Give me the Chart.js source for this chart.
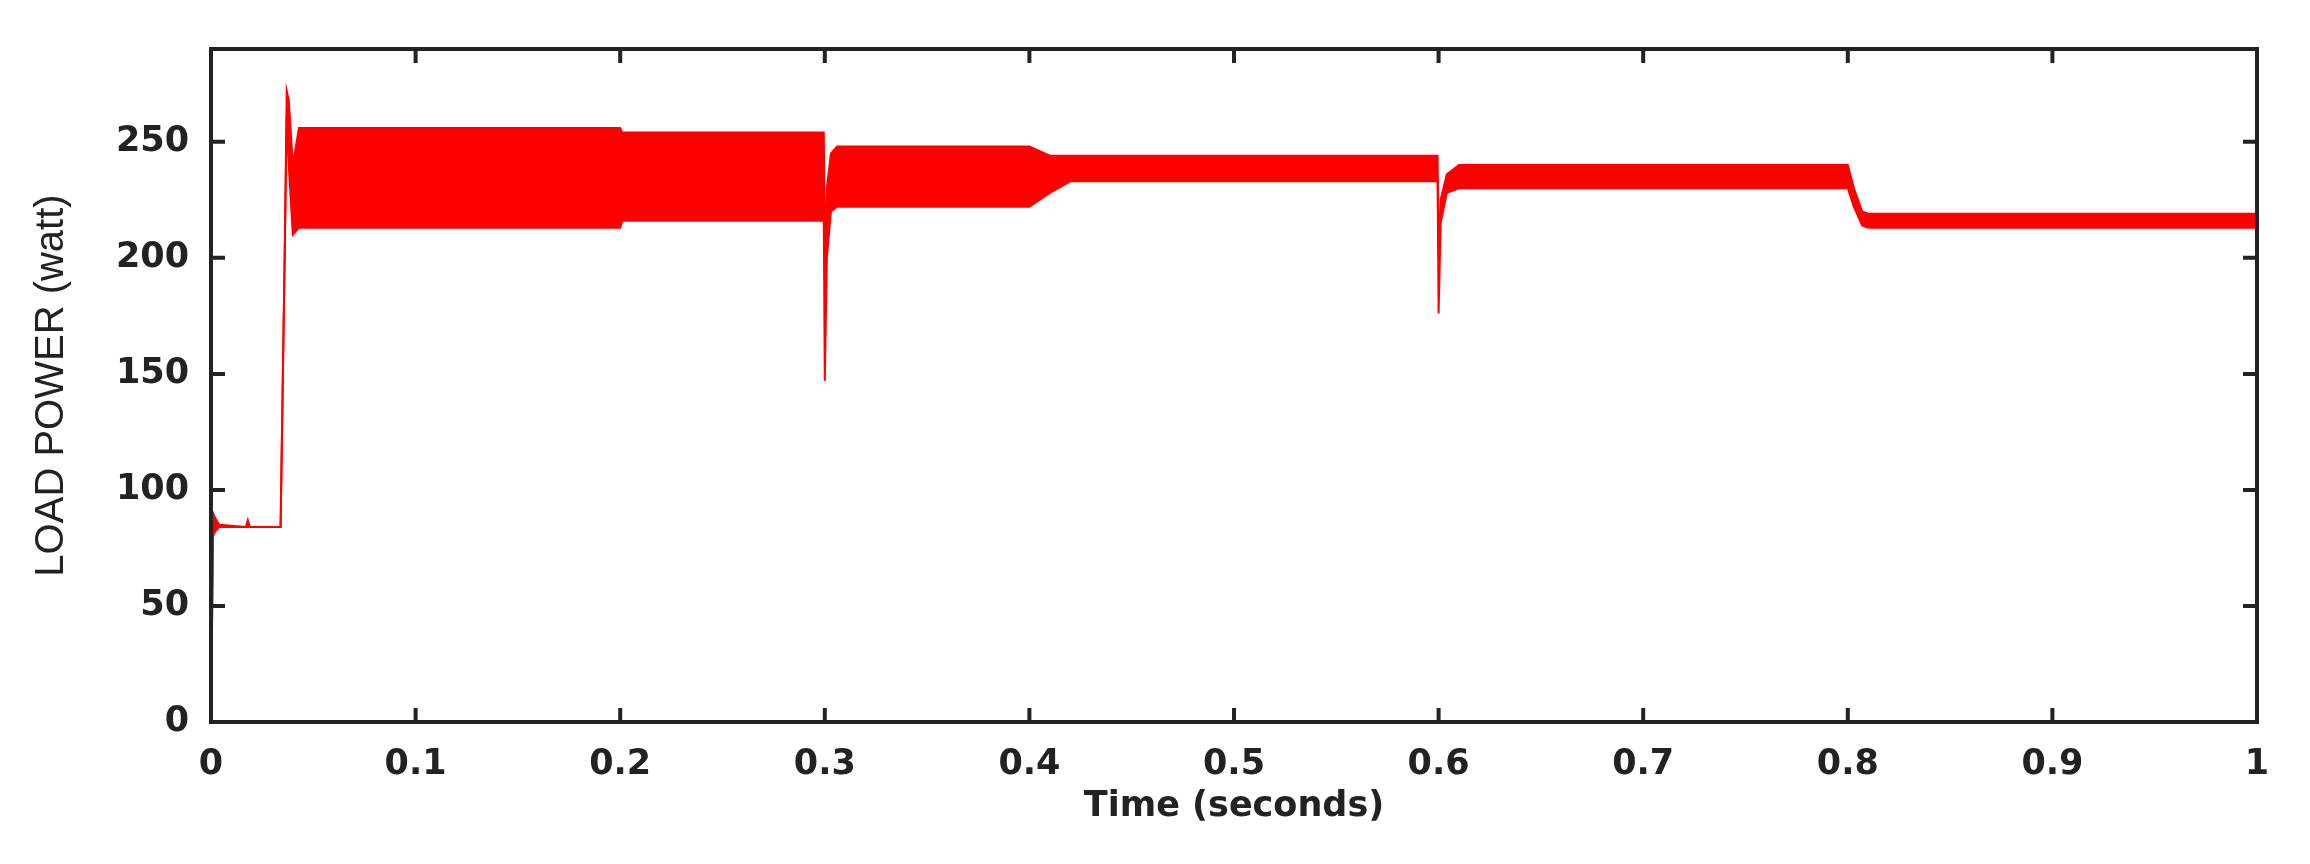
<!DOCTYPE html>
<html><head><meta charset="utf-8">
<script src="https://cdn.jsdelivr.net/npm/chart.js@4/dist/chart.umd.min.js"></script>
<style>html,body{margin:0;padding:0;background:#fff}#w{width:2310px;height:864px}</style>
</head><body><div id="w"><canvas id="c"></canvas></div>
<script>
// time points (s) and envelope of the oscillating load power (W)
const times = [0, .001, .002, .004, .017, .018, .019, .034, .036, .037, .038, .040, .043, .2, .201, .2995, .3, .301, .303, .306, .4, .41, .42, .5995, .6, .601, .604, .61, .8, .803, .807, .81, 1];
const upperPower = [0, 90, 88, 85, 84, 87, 84, 84, 200, 272, 268, 240, 256, 256, 254, 254, 200, 230, 245, 248, 248, 244, 244, 244, 200, 225, 236, 240, 240, 230, 220, 219, 219];
const lowerPower = [0, 80, 82, 84, 84, 84, 84, 84, 200, 260, 240, 210, 213, 213, 216, 216, 147, 200, 220, 222, 222, 228, 233, 233, 176, 215, 228, 230, 230, 222, 214, 213, 213];
const xTicks = [0, 0.1, 0.2, 0.3, 0.4, 0.5, 0.6, 0.7, 0.8, 0.9, 1];
const yTicks = [0, 50, 100, 150, 200, 250];

const up = times.map((t, i) => ({x: t, y: upperPower[i]}));
const lo = times.map((t, i) => ({x: t, y: lowerPower[i]}));

const frame = {
  id: 'frame',
  afterDatasetsDraw(ch) {
    const {ctx, chartArea: a, scales: {x, y}} = ch;
    ctx.save();
    ctx.strokeStyle = '#222'; ctx.lineWidth = 4;
    ctx.strokeRect(a.left, a.top, a.right - a.left, a.bottom - a.top);
    const L = 14;
    xTicks.forEach(v => { const p = x.getPixelForValue(v);
      ctx.beginPath(); ctx.moveTo(p, a.bottom); ctx.lineTo(p, a.bottom - L);
      ctx.moveTo(p, a.top); ctx.lineTo(p, a.top + L); ctx.stroke(); });
    yTicks.forEach(v => { const p = y.getPixelForValue(v);
      ctx.beginPath(); ctx.moveTo(a.left, p); ctx.lineTo(a.left + L, p);
      ctx.moveTo(a.right, p); ctx.lineTo(a.right - L, p); ctx.stroke(); });
    ctx.restore();
  }
};

new Chart(document.getElementById('c'), {
  type: 'line',
  data: { datasets: [
    { data: up, borderColor: '#ff0000', backgroundColor: '#ff0000', borderWidth: 2, pointRadius: 0, fill: '+1', tension: 0 },
    { data: lo, borderColor: '#ff0000', backgroundColor: '#ff0000', borderWidth: 2, pointRadius: 0, fill: false, tension: 0 }
  ]},
  options: {
    responsive: true, maintainAspectRatio: false, animation: false,
    layout: { padding: { top: 49, right: 53, left: 28, bottom: 36 } },
    plugins: { legend: { display: false }, tooltip: { enabled: false } },
    scales: {
      x: { type: 'linear', min: 0, max: 1,
        afterBuildTicks: s => { s.ticks = xTicks.map(v => ({value: v})); },
        afterFit: s => { s.height = 106; },
        grid: { display: false }, border: { display: false },
        ticks: { color: '#222', padding: 14, font: { family: 'DejaVu Sans', weight: 'bold', size: 35 }, callback: v => String(v) },
        title: { display: true, text: 'Time (seconds)', color: '#222', padding: { top: 0, bottom: 0 }, font: { family: 'DejaVu Sans', weight: 'bold', size: 35 } } },
      y: { min: 0, max: 290,
        afterBuildTicks: s => { s.ticks = yTicks.map(v => ({value: v})); },
        afterFit: s => { s.width = 183; },
        grid: { display: false }, border: { display: false },
        ticks: { color: '#222', padding: 14, font: { family: 'DejaVu Sans', weight: 'bold', size: 35 } },
        title: { display: true, text: 'LOAD POWER (watt)', color: '#222', padding: 0, font: { family: 'Liberation Sans Narrow, Liberation Sans', size: 40 } } }
    }
  },
  plugins: [frame]
});
</script></body></html>
